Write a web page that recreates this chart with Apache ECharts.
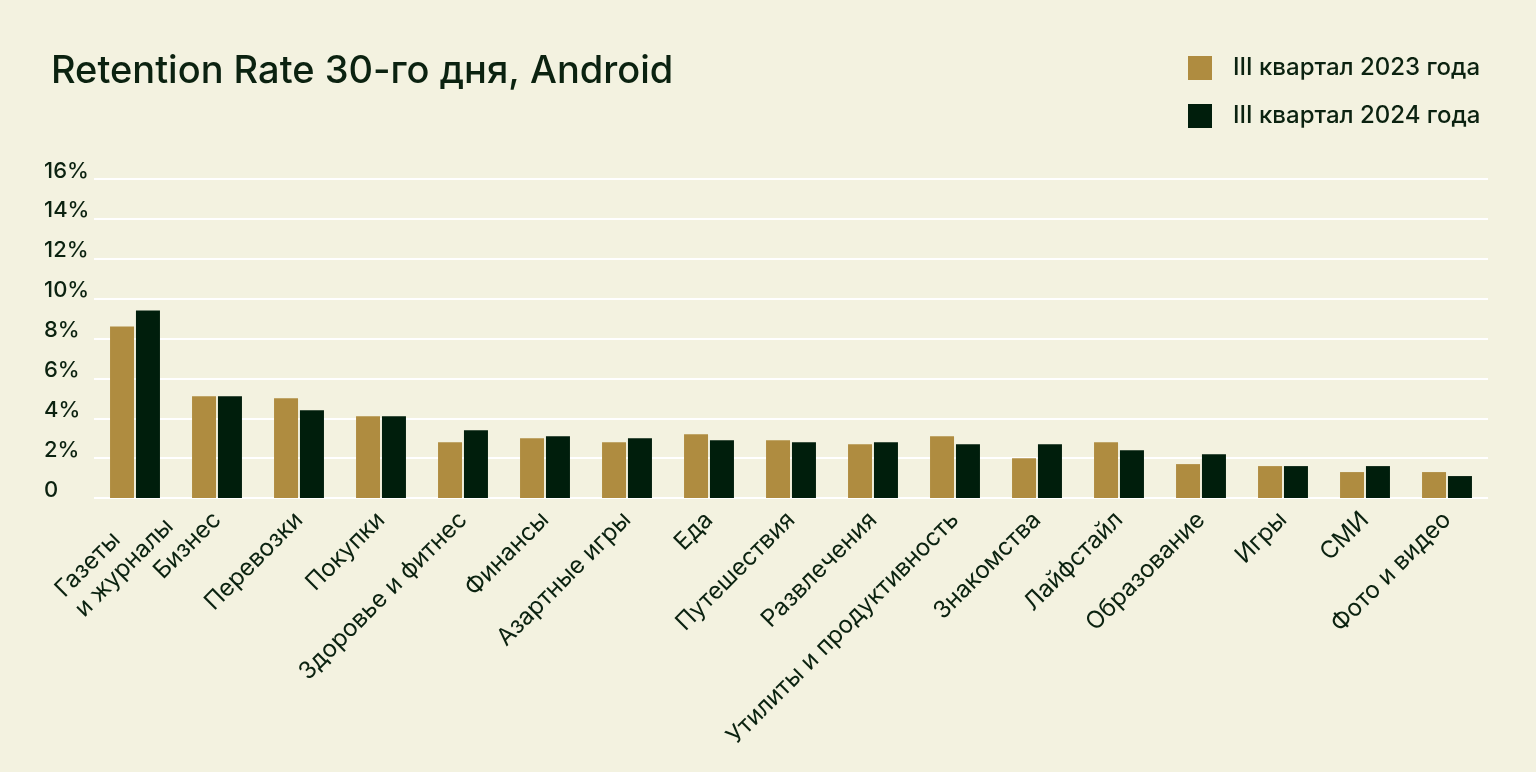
<!DOCTYPE html>
<html>
<head>
<meta charset="utf-8">
<title>Retention Rate 30-го дня, Android</title>
<script src="https://cdn.jsdelivr.net/npm/echarts@6/dist/echarts.min.js"></script>
<style>
    html, body { margin: 0; padding: 0; background: #f3f2e0; }
    #chart { width: 1536px; height: 772px; }
</style>
</head>
<body>
<div id="chart"></div>
<script>
// Categories (x axis)
var categories = [
    'Газеты\nи журналы', 'Бизнес', 'Перевозки', 'Покупки', 'Здоровье и фитнес',
    'Финансы', 'Азартные игры', 'Еда', 'Путешествия', 'Развлечения',
    'Утилиты и продуктивность', 'Знакомства', 'Лайфстайл', 'Образование',
    'Игры', 'СМИ', 'Фото и видео'
];

// Retention rate, %
var q3_2023 = [8.6, 5.1, 5.0, 4.1, 2.8, 3.0, 2.8, 3.2, 2.9, 2.7, 3.1, 2.0, 2.8, 1.7, 1.6, 1.3, 1.3];
var q3_2024 = [9.4, 5.1, 4.4, 4.1, 3.4, 3.1, 3.0, 2.9, 2.8, 2.8, 2.7, 2.7, 2.4, 2.2, 1.6, 1.6, 1.1];

var seriesNames = ['III квартал 2023 года', 'III квартал 2024 года'];

// Y axis ticks
var yMin = 0;
var yMax = 16;
var yStep = 2;

var TEXT_COLOR = '#0b2210';
var FONT = 'Inter, "Noto Sans", sans-serif';

var chart = echarts.init(document.getElementById('chart'));

// two-line labels sit a bit lower and reach further out, like the source
var xAxisData = categories.map(function(name) {
    if (name.indexOf('\n') < 0) return name;
    return { value: name, textStyle: { padding: [30, 0, 0, 0] } };
});

var option = {
    backgroundColor: '#f3f2e0',
    textStyle: { fontFamily: FONT, color: TEXT_COLOR },
    title: {
        text: 'Retention Rate 30-го дня, Android',
        left: 46,
        top: 48,
        textStyle: {
            fontFamily: FONT,
            fontSize: 38,
            fontWeight: 500,
            color: TEXT_COLOR
        }
    },
    legend: {
        orient: 'vertical',
        left: 1183,
        top: 51,
        itemWidth: 24,
        itemHeight: 24,
        itemGap: 24,
        icon: 'rect',
        selectedMode: false,
        textStyle: {
            fontFamily: FONT,
            fontSize: 24,
            fontWeight: 500,
            color: TEXT_COLOR,
            padding: [0, 0, 0, 16]
        },
        data: seriesNames
    },
    grid: {
        left: 94,
        right: 48,
        top: 179,
        bottom: 274
    },
    xAxis: {
        type: 'category',
        data: xAxisData,
        axisLine: { show: false },
        axisTick: { show: false },
        axisLabel: {
            interval: 0,
            rotate: 45,
            margin: 18,
            fontFamily: FONT,
            fontSize: 24,
            color: TEXT_COLOR,
            lineHeight: 26,
            formatter: function(value) {
                if (value.indexOf('\n') < 0) return value;
                return value.split('\n').map(function(line) {
                    return '{w|' + line + '}';
                }).join('\n');
            },
            rich: {
                w: {
                    width: 108,
                    align: 'left',
                    fontFamily: FONT,
                    fontSize: 24,
                    lineHeight: 28,
                    color: TEXT_COLOR
                }
            }
        }
    },
    yAxis: {
        type: 'value',
        min: yMin,
        max: yMax,
        interval: yStep,
        axisLine: { show: false },
        axisTick: { show: false },
        splitLine: { lineStyle: { color: '#ffffff', width: 2 } },
        axisLabel: {
            align: 'left',
            verticalAlign: 'bottom',
            lineHeight: 16,
            margin: 50,
            fontFamily: FONT,
            fontSize: 22,
            fontWeight: 500,
            color: TEXT_COLOR,
            formatter: function(v) { return v === 0 ? '0' : v + '%'; }
        }
    },
    series: [
        {
            name: seriesNames[0],
            type: 'bar',
            data: q3_2023,
            barWidth: 24,
            barGap: '8%',
            itemStyle: { color: '#af8c40' },
            silent: true
        },
        {
            name: seriesNames[1],
            type: 'bar',
            data: q3_2024,
            barWidth: 24,
            barGap: '8%',
            itemStyle: { color: '#001e0c' },
            silent: true
        }
    ]
};

chart.setOption(option);

window.addEventListener('resize', function() {
    chart.resize();
});
</script>
</body>
</html>
